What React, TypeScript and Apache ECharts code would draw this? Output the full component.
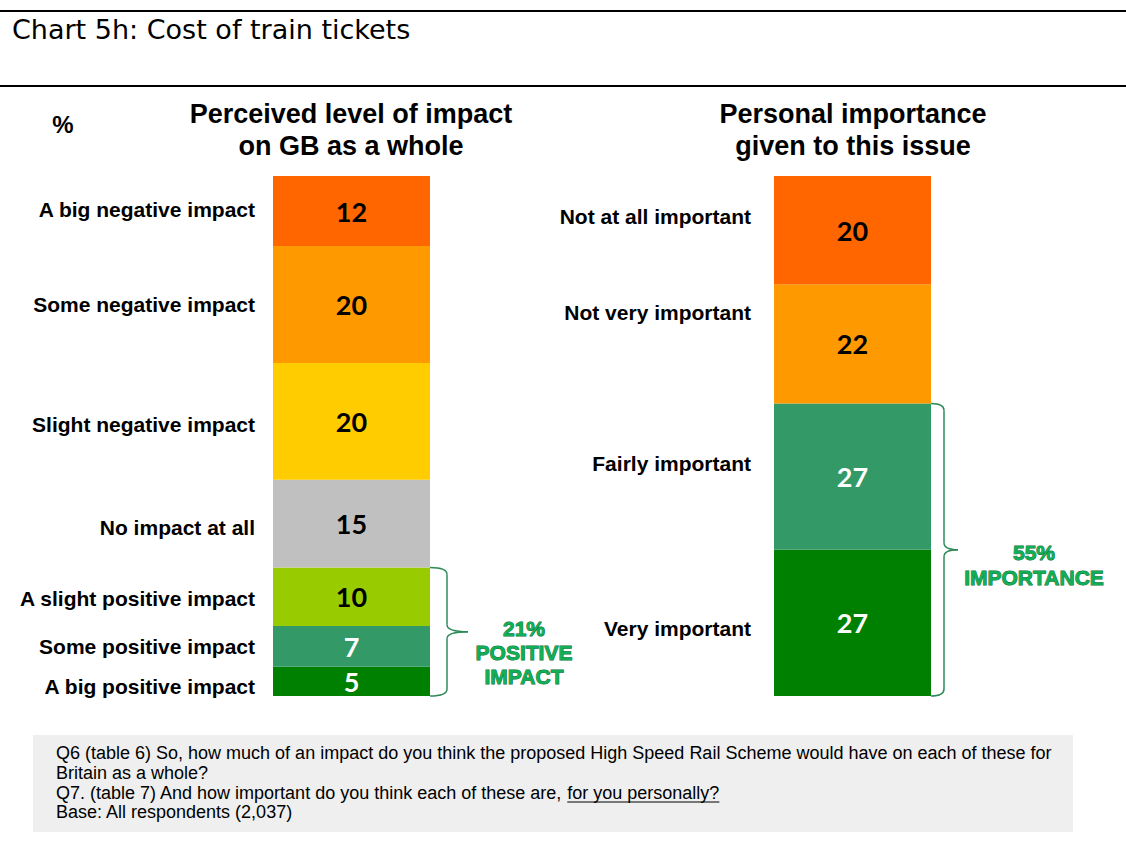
import React, { useEffect, useRef } from "react";
import * as echarts from "echarts";

// ---------------- data ----------------
const chartTitle = "Chart 5h: Cost of train tickets";
const unitLabel = "%";
const leftTitle = ["Perceived level of impact", "on GB as a whole"];
const rightTitle = ["Personal importance", "given to this issue"];

const impactCategories = [
  "A big negative impact",
  "Some negative impact",
  "Slight negative impact",
  "No impact at all",
  "A slight positive impact",
  "Some positive impact",
  "A big positive impact",
];
const impactValues = [12, 20, 20, 15, 10, 7, 5];

const importanceCategories = [
  "Not at all important",
  "Not very important",
  "Fairly important",
  "Very important",
];
const importanceValues = [20, 22, 27, 27];

const positiveGroupSize = 3; // bottom segments of the impact bar
const positiveGroupText = ["21%", "POSITIVE", "IMPACT"];
const importantGroupSize = 2; // bottom segments of the importance bar
const importantGroupText = ["55%", "IMPORTANCE"];

const footnoteLines = [
  "Q6 (table 6) So, how much of an impact do you think the proposed High Speed Rail Scheme would have on each of these for",
  "Britain as a whole?",
  "Q7. (table 7) And how important do you think each of these are, ",
  "Base: All respondents (2,037)",
];
const footnoteUnderlined = "for you personally?";

// ---------------- styles ----------------
const impactColors = ["#FF6600", "#FF9900", "#FFCC00", "#C0C0C0", "#99CC00", "#339966", "#008000"];
const importanceColors = ["#FF6600", "#FF9900", "#339966", "#008000"];
const whiteLabelColors = ["#339966", "#008000"];
const impactLabelOffsets = [-2, 0, 3, 4, 2, 0, 5];
const importanceLabelOffsets = [-14, -31, -13, 6];

const ARIAL = "'Liberation Sans', Arial, sans-serif";
const GRID_TOP = 176;
const GRID_H = 520;
const LEFT_GRID = { left: 273, width: 157 };
const RIGHT_GRID = { left: 774, width: 157 };

function sum(a: number[]) {
  return a.reduce((s, v) => s + v, 0);
}

function buildSeries(cats: string[], values: number[], colors: string[], idx: number) {
  const out: any[] = [];
  for (let i = values.length - 1; i >= 0; i--) {
    out.push({
      type: "bar",
      name: cats[i],
      stack: "s" + idx,
      xAxisIndex: idx,
      yAxisIndex: idx,
      barWidth: "100%",
      silent: true,
      data: [values[i]],
      itemStyle: { color: colors[i] },
      label: {
        show: true,
        position: "inside",
        color: whiteLabelColors.includes(colors[i]) ? "#ffffff" : "#000000",
        fontFamily: "Lato, 'Open Sans', sans-serif",
        fontWeight: "bold",
        fontSize: 27,
      },
    });
  }
  return out;
}

function braceElements(x0: number, y0: number, y1: number, dv: number, dt: number, color: string) {
  const xv = x0 + dv;
  const tip = x0 + dt;
  const ym = (y0 + y1) / 2;
  const r = 7;
  const st = { stroke: color, lineWidth: 1.5, fill: "none" };
  return [
    { type: "bezierCurve", shape: { x1: x0, y1: y0, cpx1: xv, cpy1: y0, x2: xv, y2: y0 + r }, style: st },
    { type: "line", shape: { x1: xv, y1: y0 + r, x2: xv, y2: ym - r }, style: st },
    { type: "bezierCurve", shape: { x1: xv, y1: ym - r, cpx1: xv, cpy1: ym, x2: tip, y2: ym }, style: st },
    { type: "bezierCurve", shape: { x1: tip, y1: ym, cpx1: xv, cpy1: ym, x2: xv, y2: ym + r }, style: st },
    { type: "line", shape: { x1: xv, y1: ym + r, x2: xv, y2: y1 - r }, style: st },
    { type: "bezierCurve", shape: { x1: xv, y1: y1 - r, cpx1: xv, cpy1: y1, x2: x0, y2: y1 }, style: st },
  ];
}

function measure(text: string, font: string) {
  const c = document.createElement("canvas").getContext("2d");
  if (!c) return text.length * 8;
  c.font = font;
  return c.measureText(text).width;
}

export default function App() {
  const ref = useRef<HTMLDivElement>(null);

  useEffect(() => {
    if (!ref.current) return;
    const chart = echarts.init(ref.current, undefined, { renderer: "svg" });
    const leftSum = sum(impactValues);
    const rightSum = sum(importanceValues);

    chart.setOption({
      animation: false,
      backgroundColor: "#ffffff",
      grid: [
        { left: LEFT_GRID.left, width: LEFT_GRID.width, top: GRID_TOP, height: GRID_H },
        { left: RIGHT_GRID.left, width: RIGHT_GRID.width, top: GRID_TOP, height: GRID_H },
      ],
      xAxis: [
        { type: "category", gridIndex: 0, data: ["impact"], show: false },
        { type: "category", gridIndex: 1, data: ["importance"], show: false },
      ],
      yAxis: [
        { type: "value", gridIndex: 0, min: 0, max: leftSum, show: false, splitLine: { show: false } },
        { type: "value", gridIndex: 1, min: 0, max: rightSum, show: false, splitLine: { show: false } },
      ],
      series: [
        ...buildSeries(impactCategories, impactValues, impactColors, 0),
        ...buildSeries(importanceCategories, importanceValues, importanceColors, 1),
      ],
    });

    const yPx = (axis: number, v: number) => chart.convertToPixel({ yAxisIndex: axis } as any, v) as number;

    const graphics: any[] = [];
    // header
    graphics.push(
      { type: "line", shape: { x1: 0, y1: 11, x2: 1126, y2: 11 }, style: { stroke: "#000", lineWidth: 2 } },
      { type: "line", shape: { x1: 0, y1: 86, x2: 1126, y2: 86 }, style: { stroke: "#000", lineWidth: 2 } },
      {
        type: "text",
        x: 12,
        y: 29,
        style: { text: chartTitle, fill: "#000", font: "27px 'DejaVu Sans', Verdana, sans-serif", align: "left", verticalAlign: "middle" },
      },
      {
        type: "text",
        x: 63,
        y: 124,
        style: { text: unitLabel, fill: "#000", font: "bold 24px " + ARIAL, align: "center", verticalAlign: "middle" },
      },
      {
        type: "text",
        x: 351,
        y: 130,
        style: { text: leftTitle.join("\n"), fill: "#000", font: "bold 27px " + ARIAL, lineHeight: 32, align: "center", verticalAlign: "middle" },
      },
      {
        type: "text",
        x: 853,
        y: 130,
        style: { text: rightTitle.join("\n"), fill: "#000", font: "bold 27px " + ARIAL, lineHeight: 32, align: "center", verticalAlign: "middle" },
      }
    );

    // category labels
    const catLabels = (cats: string[], values: number[], axis: number, rightX: number, offs: number[]) => {
      let top = sum(values);
      cats.forEach((c, i) => {
        const mid = top - values[i] / 2;
        top -= values[i];
        graphics.push({
          type: "text",
          x: rightX,
          y: yPx(axis, mid) + offs[i],
          style: { text: c, fill: "#000", font: "bold 21px " + ARIAL, align: "right", verticalAlign: "middle" },
        });
      });
    };
    catLabels(impactCategories, impactValues, 0, 255, impactLabelOffsets);
    catLabels(importanceCategories, importanceValues, 1, 751, importanceLabelOffsets);

    // braces
    const braceColor = "#2E8B57";
    const posTop = sum(impactValues.slice(impactValues.length - positiveGroupSize));
    const lY0 = yPx(0, posTop);
    const lY1 = yPx(0, 0);
    const lX0 = LEFT_GRID.left + LEFT_GRID.width;
    graphics.push(...braceElements(lX0, lY0, lY1, 17, 38, braceColor));
    const impTop = sum(importanceValues.slice(importanceValues.length - importantGroupSize));
    const rY0 = yPx(1, impTop);
    const rY1 = yPx(1, 0);
    const rX0 = RIGHT_GRID.left + RIGHT_GRID.width;
    graphics.push(...braceElements(rX0, rY0, rY1, 13, 27, braceColor));

    const greenStyle = { fill: "#0FAF55", stroke: "#0B6B38", lineWidth: 0.9, font: "bold 21px " + ARIAL, lineHeight: 24, align: "center", verticalAlign: "middle" };
    graphics.push({
      type: "text",
      x: 524,
      y: (lY0 + lY1) / 2 + 21,
      style: { ...greenStyle, text: positiveGroupText.join("\n") },
    });
    graphics.push({
      type: "text",
      x: 1034,
      y: (rY0 + rY1) / 2 + 15,
      style: { ...greenStyle, lineHeight: 25, text: importantGroupText.join("\n") },
    });

    // footnote box
    const fnFont = "18px " + ARIAL;
    graphics.push({ type: "rect", shape: { x: 33, y: 735, width: 1040, height: 97 }, style: { fill: "#EFEFEF" } });
    const fnY = [753, 773, 793, 812];
    footnoteLines.forEach((t, i) => {
      graphics.push({ type: "text", x: 56, y: fnY[i], style: { text: t, fill: "#000", font: fnFont, align: "left", verticalAlign: "middle" } });
    });
    const w1 = measure(footnoteLines[2], fnFont);
    const w2 = measure(footnoteUnderlined, fnFont);
    graphics.push({
      type: "text",
      x: 56 + w1,
      y: fnY[2],
      style: { text: footnoteUnderlined, fill: "#000", font: fnFont, align: "left", verticalAlign: "middle" },
    });
    graphics.push({
      type: "line",
      shape: { x1: 56 + w1, y1: fnY[2] + 9, x2: 56 + w1 + w2, y2: fnY[2] + 9 },
      style: { stroke: "#000", lineWidth: 1 },
    });

    chart.setOption({ graphic: graphics });

    return () => chart.dispose();
  }, []);

  return <div ref={ref} style={{ position: "absolute", left: 0, top: 0, width: 1126, height: 865, background: "#fff" }} />;
}
